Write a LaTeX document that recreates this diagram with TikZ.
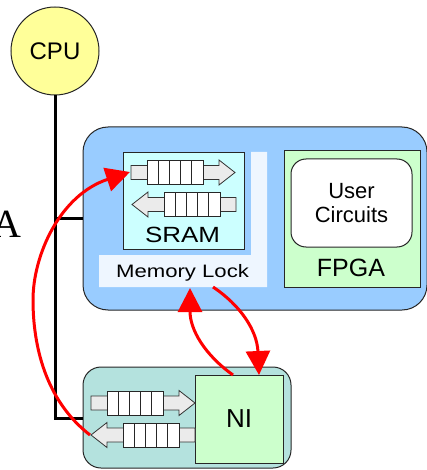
\documentclass[tikz,border=0pt]{standalone}
\usepackage{fontspec}
\usepackage{graphicx}
\setmainfont{Liberation Sans}
\newfontfamily\serifA{Liberation Serif}
\usetikzlibrary{arrows.meta}
\definecolor{cpuY}{HTML}{FFFF99}
\definecolor{boardB}{HTML}{99CCFF}
\definecolor{sramC}{HTML}{CCFFFF}
\definecolor{lockC}{HTML}{EEF6FF}
\definecolor{greenC}{HTML}{CCFFCC}
\definecolor{niboardC}{HTML}{B4E2DE}
\definecolor{qgray}{HTML}{EBEBEB}
\definecolor{redC}{HTML}{FF0000}
\tikzset{
  boxline/.style={draw=black!85, line width=1pt},
  cpustyle/.style={circle, boxline, fill=cpuY, minimum size=88pt, inner sep=0pt, font=\fontsize{24}{28}\selectfont},
  boardstyle/.style={rectangle, boxline, rounded corners=25pt, fill=boardB, inner sep=0pt},
  sramstyle/.style={rectangle, boxline, fill=sramC, inner sep=0pt},
  greenstyle/.style={rectangle, boxline, fill=greenC, inner sep=0pt},
  userstyle/.style={rectangle, boxline, rounded corners=15pt, fill=white, inner sep=0pt, align=center, font=\fontsize{22}{24}\selectfont},
  niboardstyle/.style={rectangle, boxline, rounded corners=18pt, fill=niboardC, inner sep=0pt},
  labeltext/.style={inner sep=0pt, anchor=base},
  bus/.style={line width=3pt, black, line join=miter},
  redarrow/.style={line width=3pt, redC, -{Triangle[length=24pt,width=24pt]}},
  qbody/.style={draw=black!80, line width=0.8pt, fill=qgray},
  qbox/.style={draw=black!85, line width=0.8pt, fill=white},
  queuearrow/.pic={
    \draw[qbody] (0,-7) -- (88,-7) -- (88,-12.5) -- (104,0) -- (88,12.5) -- (88,7) -- (0,7) -- cycle;
    \draw[qbox] (16,-12) rectangle (72,12);
    \foreach \k in {1,2,3,4} \draw[qbox] ({16+11.2*\k},-12) -- ({16+11.2*\k},12);
  }
}
\begin{document}
\begin{tikzpicture}[x=1pt, y=-1pt]
\useasboundingbox (0,0) rectangle (427,470);

% nodes
\node[cpustyle] (cpu) at (55,51) {CPU};
\node[boardstyle, minimum width=344pt, minimum height=183pt] (board) at (255,218.5) {};
\node[sramstyle, minimum width=121pt, minimum height=96pt] (sram) at (183.5,201) {};
\fill[lockC] (251,152) -- (267,152) -- (267,287) -- (99,287) -- (99,255) -- (251,255) -- cycle;
\node[labeltext, font=\fontsize{18}{20}\selectfont] (locklabel) at (182.5,277) {\scalebox{1.23}[1]{Memory Lock}};
\node[labeltext, font=\fontsize{22}{24}\selectfont] (sramlabel) at (182.5,242) {\scalebox{1.18}[1]{SRAM}};
\node[greenstyle, minimum width=136pt, minimum height=136pt] (fpga) at (352,219) {};
\node[userstyle, minimum width=121pt, minimum height=88pt] (user) at (351.5,203) {User\\Circuits};
\node[labeltext, font=\fontsize{25}{28}\selectfont] (fpgalabel) at (351,276) {FPGA};
\node[niboardstyle, minimum width=208pt, minimum height=101pt] (niboard) at (187,417.5) {};
\node[greenstyle, minimum width=88pt, minimum height=88pt, font=\fontsize{26}{28}\selectfont] (ni) at (239,419) {NI};
\node[labeltext, font=\serifA\fontsize{40}{44}\selectfont] (alabel) at (6.5,237) {A};

% queues
\pic at (131,172.5) {queuearrow};
\pic[xscale=-1] at (236,204.5) {queuearrow};
\pic at (91,403) {queuearrow};
\pic[xscale=-1] at (195,435) {queuearrow};

% bus
\coordinate (busbot) at (55,418);
\draw[bus] (cpu.south) -- (busbot) -- (busbot -| niboard.west);
\draw[bus] (cpu.south |- board.west) -- (board.west);

% red arrows
\coordinate (r1s) at (90,435);
\coordinate (r1e) at (130,172);
\coordinate (r2s) at (233,375);
\coordinate (r2e) at (190,288);
\coordinate (r3s) at (213,287);
\coordinate (r3e) at (259,375);
\draw[redarrow] (r1s) .. controls (45,400) and (33,345) .. (33,300) .. controls (33,255) and (60,195) .. (r1e);
\draw[redarrow] (r2s) .. controls (205,355) and (190,330) .. (r2e);
\draw[redarrow] (r3s) .. controls (240,305) and (257,330) .. (r3e);
\end{tikzpicture}
\end{document}
